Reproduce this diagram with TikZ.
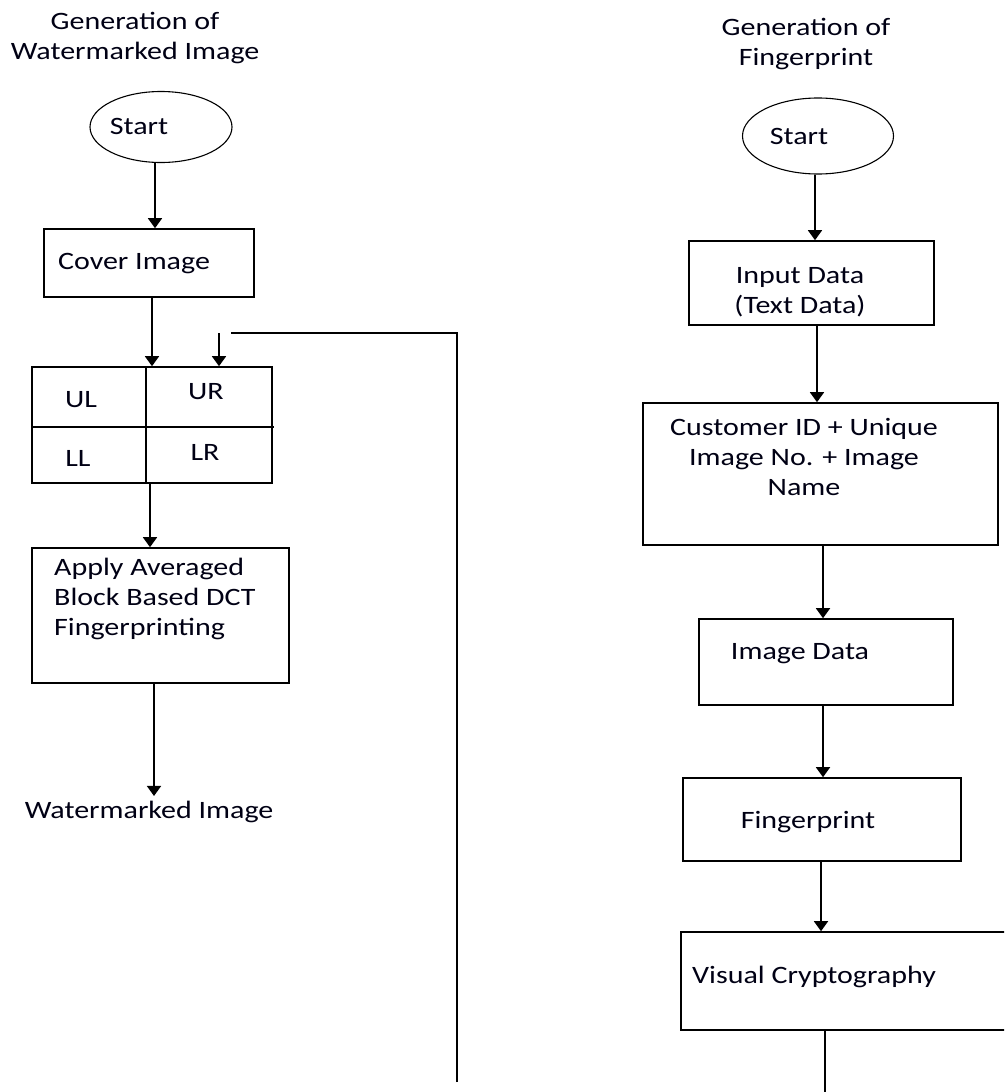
\documentclass[tikz,border=0pt]{standalone}
\usepackage{fontspec}
\setmainfont{Carlito}[FakeStretch=1.2]
\usetikzlibrary{arrows.meta,shapes.geometric}
\tikzset{
  txt/.style={inner sep=0pt, font=\fontsize{25pt}{30pt}\selectfont, text=black!92!blue},
  boxnode/.style={draw, line width=1.6pt, inner sep=0pt},
  ovalnode/.style={draw, ellipse, line width=1.1pt, inner sep=0pt},
  arr/.style={line width=1.6pt, -{Triangle[width=14pt,length=10pt]}},
  ln/.style={line width=1.6pt}
}
\begin{document}
\begin{tikzpicture}[x=1pt,y=-1pt]
\useasboundingbox (0,0) rectangle (1004,1092);
\clip (0,0) rectangle (1004,1092);
\fill[white] (0,0) rectangle (1004,1092);
% ---------- left column ----------
\node[txt, align=center] (t1) at (135,38) {Generation of\\Watermarked Image};
\node[ovalnode, minimum width=142pt, minimum height=71pt] (s1) at (161,127) {};
\node[txt] (s1t) at (139,126) {Start};
\node[boxnode, minimum width=210pt, minimum height=68pt] (cover) at (149,263) {};
\node[txt] (covert) at (134,264) {Cover Image};
\node[boxnode, minimum width=240pt, minimum height=116pt] (grid) at (152,425) {};
\coordinate (gtop) at (146,367);
\coordinate (gbot) at (146,483);
\coordinate (gleft) at (32,427);
\coordinate (gright) at (274,427);
\draw[ln] (gtop) -- (gbot);
\draw[ln] (gleft) -- (gright);
\node[txt] (ul) at (81,400) {UL};
\node[txt] (ur) at (206,392) {UR};
\node[txt] (ll) at (78,458) {LL};
\node[txt] (lr) at (205,452) {LR};
\node[boxnode, minimum width=257pt, minimum height=135pt] (apply) at (160.5,615.5) {};
\node[txt, align=left, anchor=west] (applyt) at (54,599) {Apply Averaged\\Block Based DCT\\Fingerprinting};
\node[txt] (wm) at (149,812) {Watermarked Image};
\draw[arr] ([xshift=-6pt]s1.south) -- ([xshift=6pt]cover.north);
\draw[arr] ([xshift=3pt]cover.south) -- (grid.north);
\draw[arr] ([xshift=-2pt]grid.south) -- ([xshift=-10.5pt]apply.north);
\draw[arr] ([xshift=-6.5pt]apply.south) -- ([xshift=5pt,yshift=5pt]wm.north);
% feedback line
\coordinate (fbB) at (457,1082);
\coordinate (fbC) at (457,333);
\coordinate (fbD) at (231,333);
\coordinate (fbA) at (219,333);
\draw[ln] (fbB) -- (fbC) -- (fbD);
\draw[arr] (fbA) -- ([xshift=67pt]grid.north);
% ---------- right column ----------
\node[txt, align=center] (t2) at (806,44) {Generation of\\Fingerprint};
\node[ovalnode, minimum width=151pt, minimum height=76pt] (s2) at (818,136) {};
\node[txt] (s2t) at (799,136) {Start};
\node[boxnode, minimum width=245pt, minimum height=84pt] (input) at (811.5,283) {};
\node[txt, align=center] (inputt) at (800,292) {Input Data\\(Text Data)};
\node[boxnode, minimum width=355pt, minimum height=142pt] (cust) at (820.5,474) {};
\node[txt, align=center] (custt) at (804,457) {Customer ID + Unique\\Image No. + Image\\Name};
\node[boxnode, minimum width=254pt, minimum height=86pt] (imgd) at (826,662) {};
\node[txt] (imgdt) at (800,654) {Image Data};
\node[boxnode, minimum width=278pt, minimum height=83pt] (fp) at (822,819.5) {};
\node[txt] (fpt) at (808,822) {Fingerprint};
\node[boxnode, minimum width=359pt, minimum height=98pt] (vc) at (860.5,981) {};
\node[txt, anchor=west] (vct) at (692,977) {Visual Cryptography};
\coordinate (vcend) at (825,1100);
\draw[arr] ([xshift=-3pt]s2.south) -- ([xshift=3.5pt]input.north);
\draw[arr] ([xshift=5.5pt]input.south) -- ([xshift=-3.5pt]cust.north);
\draw[arr] ([xshift=2.5pt]cust.south) -- ([xshift=-3pt]imgd.north);
\draw[arr] ([xshift=-3pt]imgd.south) -- ([xshift=1pt]fp.north);
\draw[arr] ([xshift=-1pt]fp.south) -- ([xshift=-39.5pt]vc.north);
\draw[ln] ([xshift=-35.5pt]vc.south) -- (vcend);
\end{tikzpicture}
\end{document}
